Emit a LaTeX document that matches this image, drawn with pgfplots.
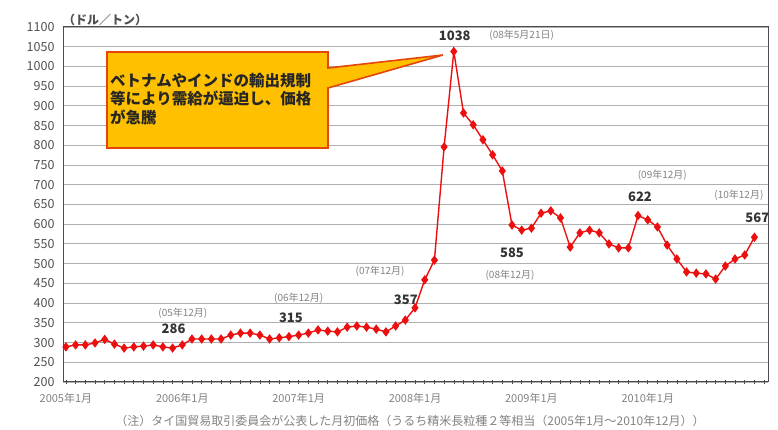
\documentclass[border=0pt]{standalone}
\usepackage{pgfplots}
\pgfplotsset{compat=1.18}
\usepackage{fontspec}
\setmainfont{Noto Sans CJK JP}
\definecolor{linered}{RGB}{235,15,15}
\definecolor{gridgray}{RGB}{175,175,175}
\definecolor{boxfill}{RGB}{255,192,0}
\definecolor{boxline}{RGB}{228,70,10}
\definecolor{txtgray}{RGB}{80,80,80}
\definecolor{lightgray2}{RGB}{130,130,130}
\pgfplotstableread{
idx val
0 289
1 294
2 294
3 299
4 308
5 296
6 286
7 289
8 291
9 294
10 289
11 286
12 294
13 309
14 309
15 309
16 309
17 319
18 324
19 324
20 319
21 309
22 312
23 315
24 319
25 324
26 332
27 329
28 327
29 339
30 342
31 339
32 334
33 327
34 342
35 357
36 388
37 459
38 509
39 796
40 1038
41 882
42 852
43 814
44 776
45 735
46 598
47 585
48 590
49 628
50 634
51 616
52 542
53 578
54 585
55 578
56 550
57 540
58 540
59 622
60 611
61 593
62 547
63 512
64 479
65 476
66 474
67 461
68 494
69 512
70 522
71 567
}\prices
\begin{document}
\begin{tikzpicture}[x=1pt,y=1pt]
\useasboundingbox (0,0) rectangle (778,430);
\begin{axis}[
  at={(63pt,48pt)}, anchor=south west,
  scale only axis, width=705pt, height=355pt,
  xmin=-0.3, xmax=72.4, ymin=200, ymax=1100,
  ytick={200,250,...,1100},
  xtick={0,12,24,36,48,60},
  xticklabels={2005年1月,2006年1月,2007年1月,2008年1月,2009年1月,2010年1月},
  minor xtick={0,1,...,72},
  xtick pos=bottom, ytick pos=left,
  tick align=center,
  major tick length=4pt, minor tick length=4pt,
  ytick style={draw=none},
  tick style={color=black!70, line width=0.6pt},
  ymajorgrids,
  major grid style={color=gridgray, line width=1.1pt},
  axis line style={color=black!70, line width=1pt},
  /pgf/number format/assume math mode=true,
  /pgf/number format/1000 sep={},
  yticklabel style={font=\fontsize{12.5}{12.5}\selectfont, text=txtgray, xshift=-3pt},
  xticklabel style={font=\fontsize{11}{11}\selectfont, text=lightgray2, yshift=-6pt},
  clip=false,
]
\addplot[color=linered, line width=1.4pt, mark=diamond*, mark size=3.6pt,
  mark options={fill=linered, draw=linered}] table[x=idx, y=val] {\prices};
\begin{scope}[font=\fontsize{13}{13}\selectfont\bfseries, text=black!80]
\node at (axis cs:40.1,1077) {1038};
\node at (axis cs:11.1,334) {286};
\node at (axis cs:23.2,362) {315};
\node at (axis cs:35.05,408) {357};
\node at (axis cs:46.0,527) {585};
\node at (axis cs:59.2,669) {622};
\node at (axis cs:71.3,616) {567};
\end{scope}
\begin{scope}[font=\fontsize{10}{10}\selectfont, text=lightgray2]
\node at (axis cs:47.0,1080) {(08年5月21日)};
\node at (axis cs:12.06,375) {(05年12月)};
\node at (axis cs:24.0,413) {(06年12月)};
\node at (axis cs:32.4,481) {(07年12月)};
\node at (axis cs:45.8,471) {(08年12月)};
\node at (axis cs:61.5,725) {(09年12月)};
\node at (axis cs:69.4,674) {(10年12月)};
\end{scope}
\end{axis}
% frame on top and right
\draw[color=black!70, line width=1pt] (63,48) rectangle (768,403);
% callout
\draw[fill=boxfill, draw=boxline, line width=1.6pt, line join=miter]
  (107,378) -- (328,378) -- (328,362) -- (443,375) -- (328,342) -- (328,282) -- (107,282) -- cycle;
\node[anchor=north west, align=left, inner sep=0pt, font=\fontsize{15.5}{18.5}\selectfont\bfseries, text=black!85]
  at (110,357) {ベトナムやインドの輸出規制\\等により需給が逼迫し、価格\\が急騰};
\node[font=\fontsize{12}{12}\selectfont\bfseries, text=txtgray] at (105,410) {（ドル／トン）};
\node[font=\fontsize{12}{12}\selectfont, text=lightgray2] at (410,9)
  {（注）タイ国貿易取引委員会が公表した月初価格（うるち精米長粒種２等相当（2005年1月～2010年12月））};
\end{tikzpicture}
\end{document}
